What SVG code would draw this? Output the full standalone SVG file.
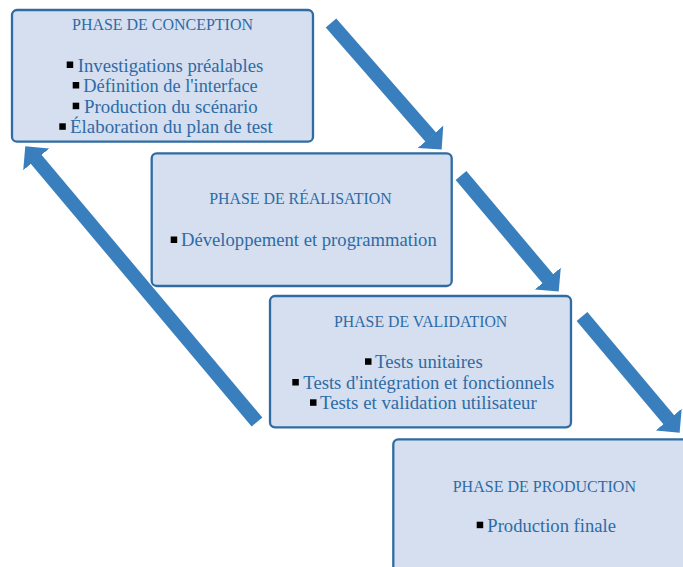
<svg xmlns="http://www.w3.org/2000/svg" width="683" height="567" viewBox="0 0 683 567">
<style>
.box{fill:#D5DFEF;stroke:#2F6CA3;stroke-width:2.3}
.t{font-family:"Liberation Serif","Times New Roman",serif;fill:#2E6BA6}
.title{font-size:17px}
.item{font-size:18px}
.bul{fill:#000}
.arr{stroke:#3A7FBD;stroke-width:14;fill:none;stroke-linecap:butt}
</style>
<defs>
<marker id="ah" viewBox="0 0 17 34" refX="0.5" refY="17" markerWidth="1.214" markerHeight="2.43" markerUnits="strokeWidth" orient="auto">
<path d="M0,0 L17,17 L0,34 z" fill="#3A7FBD"/>
</marker>
<rect id="b" width="6.5" height="6.5"/>
</defs>
<rect width="683" height="567" fill="#FFFFFF"/>
<g id="connectors">
<line class="arr" x1="331" y1="23" x2="430.8" y2="137.2" marker-end="url(#ah)"/>
<line class="arr" x1="461" y1="175.5" x2="548.1" y2="279" marker-end="url(#ah)"/>
<line class="arr" x1="582" y1="316.5" x2="669" y2="420" marker-end="url(#ah)"/>
<line class="arr" x1="257" y1="422" x2="35.9" y2="159" marker-end="url(#ah)"/>
</g>
<g id="conception">
<rect class="box" x="12" y="10" width="301" height="131.7" rx="5"/>
<text class="t title" x="72" y="30" textLength="181" lengthAdjust="spacingAndGlyphs">PHASE DE CONCEPTION</text>
<use href="#b" class="bul" x="66.7" y="61.5"/>
<text class="t item" x="77.7" y="71.7" textLength="185.6" lengthAdjust="spacingAndGlyphs">Investigations préalables</text>
<use href="#b" class="bul" x="72.7" y="82"/>
<text class="t item" x="83.3" y="92" textLength="174.4" lengthAdjust="spacingAndGlyphs">Définition de l'interface</text>
<use href="#b" class="bul" x="72.7" y="102.7"/>
<text class="t item" x="84" y="112.7" textLength="173.7" lengthAdjust="spacingAndGlyphs">Production du scénario</text>
<use href="#b" class="bul" x="59.3" y="123.3"/>
<text class="t item" x="70" y="133.3" textLength="202.7" lengthAdjust="spacingAndGlyphs">Élaboration du plan de test</text>
</g>
<g id="realisation">
<rect class="box" x="151.7" y="153.3" width="300" height="132.7" rx="5"/>
<text class="t title" x="209.3" y="204" textLength="182.4" lengthAdjust="spacingAndGlyphs">PHASE DE RÉALISATION</text>
<use href="#b" class="bul" x="170.7" y="236.5"/>
<text class="t item" x="181" y="245.7" textLength="255.7" lengthAdjust="spacingAndGlyphs">Développement et programmation</text>
</g>
<g id="validation">
<rect class="box" x="270" y="296" width="301" height="131.3" rx="5"/>
<text class="t title" x="334" y="326.7" textLength="173.3" lengthAdjust="spacingAndGlyphs">PHASE DE VALIDATION</text>
<use href="#b" class="bul" x="365" y="358.3"/>
<text class="t item" x="375" y="368.3" textLength="107.7" lengthAdjust="spacingAndGlyphs">Tests unitaires</text>
<use href="#b" class="bul" x="292.3" y="379"/>
<text class="t item" x="303.3" y="389" textLength="251" lengthAdjust="spacingAndGlyphs">Tests d'intégration et fonctionnels</text>
<use href="#b" class="bul" x="310" y="399.3"/>
<text class="t item" x="320" y="409.3" textLength="216.7" lengthAdjust="spacingAndGlyphs">Tests et validation utilisateur</text>
</g>
<g id="production">
<rect class="box" x="393.3" y="439.3" width="320" height="150" rx="5"/>
<text class="t title" x="452.7" y="491.7" textLength="183.3" lengthAdjust="spacingAndGlyphs">PHASE DE PRODUCTION</text>
<use href="#b" class="bul" x="476.7" y="521.7"/>
<text class="t item" x="487.3" y="531.7" textLength="128.7" lengthAdjust="spacingAndGlyphs">Production finale</text>
</g>
</svg>
